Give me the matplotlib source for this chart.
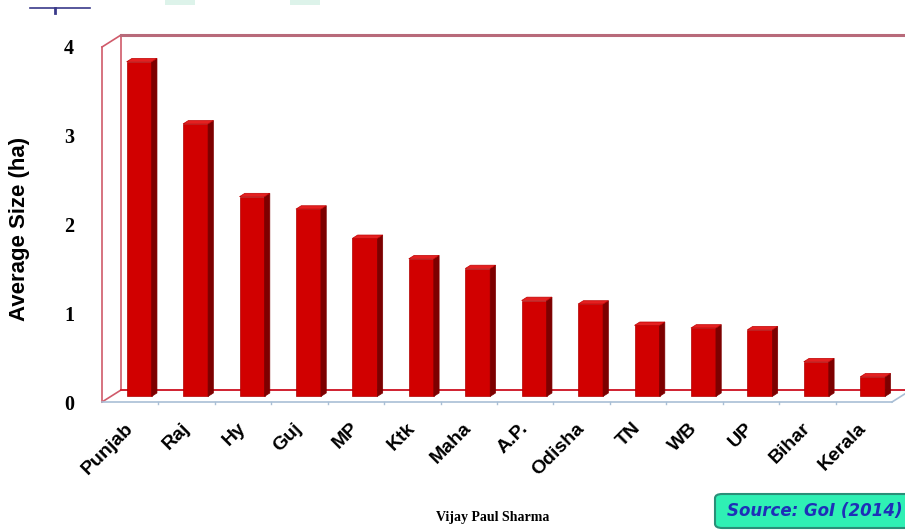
import matplotlib
matplotlib.use("Agg")
import matplotlib.pyplot as plt
from matplotlib.patches import Polygon, FancyBboxPatch, Rectangle
import numpy as np

states = ["Punjab", "Raj", "Hy", "Guj", "MP", "Ktk", "Maha", "A.P.",
          "Odisha", "TN", "WB", "UP", "Bihar", "Kerala"]
avg_size = [3.77, 3.07, 2.25, 2.11, 1.78, 1.55, 1.44, 1.08,
            1.04, 0.80, 0.77, 0.75, 0.39, 0.22]
y_ticks = [0, 1, 2, 3, 4]
y_label = "Average Size (ha)"
author = "Vijay Paul Sharma"
source = "Source: GoI (2014)"

NARROW = ["Liberation Sans Narrow", "Liberation Sans", "DejaVu Sans"]

W, H = 905, 531
fig = plt.figure(figsize=(W / 100, H / 100), dpi=100)
fig.patch.set_facecolor("white")

# front plane of the 3D frame
L, R, B, T = 102, 892, 402, 47
ax = fig.add_axes([L / W, 1 - B / H, (R - L) / W, (B - T) / H])
ax.set_xlim(-0.5, len(states) - 0.5)
ax.set_ylim(0, 4)
for s in ax.spines.values():
    s.set_visible(False)
ax.patch.set_alpha(0)

px_x = (R - L) / len(states)
px_y = (B - T) / 4.0
DX, DY = 19 / px_x, 12 / px_y  # full depth in data units

frame = "#d05a6a"
x0, x1 = -0.5, len(states) - 0.5
kw = dict(clip_on=False, lw=1.2, color=frame, zorder=1)
ax.plot([x0, x0], [0, 4], **kw)
ax.plot([x0 + DX, x0 + DX], [DY, 4 + DY], **kw)
ax.plot([x0, x0 + DX], [4, 4 + DY], **kw)
ax.plot([x0, x0 + DX], [0, DY], **kw)
ax.plot([x0 + DX, x1 + DX], [4 + DY, 4 + DY], clip_on=False, lw=2.2, color="#b86a7a", zorder=1)
ax.plot([x0 + DX, x1 + DX], [DY, DY], clip_on=False, lw=1.4, color="#d02030", zorder=1)
floor = "#a9bfd6"
ax.plot([x0, x1], [0, 0], clip_on=False, lw=1.2, color=floor, zorder=1)
ax.plot([x1, x1 + DX], [0, DY], clip_on=False, lw=1.2, color=floor, zorder=1)
for b in np.arange(x0 + 1, x1, 1.0):
    ax.plot([b, b], [0, -0.02], clip_on=False, lw=1, color=floor, zorder=1)

# bars
x = np.arange(len(states))
f1, f2 = 0.47, 0.75
bw = 25 / px_x
sx1, sy1 = f1 * DX, f1 * DY
sx2, sy2 = f2 * DX, f2 * DY
ax.bar(x + sx1, avg_size, width=bw, bottom=sy1, color="#d10000",
       edgecolor="#b00000", linewidth=0.5, zorder=3)
for xi, v in zip(x, avg_size):
    xl = xi + sx1 - bw / 2
    xr = xi + sx1 + bw / 2
    side = [(xr, sy1), (xr + sx2 - sx1, sy2), (xr + sx2 - sx1, v + sy2), (xr, v + sy1)]
    ax.add_patch(Polygon(side, closed=True, facecolor="#7d0000", edgecolor="#7d0000",
                         lw=0.5, zorder=3, clip_on=False))
    top = [(xl, v + sy1), (xr, v + sy1), (xr + sx2 - sx1, v + sy2), (xl + sx2 - sx1, v + sy2)]
    ax.add_patch(Polygon(top, closed=True, facecolor="#e42020", edgecolor="#c00000",
                         lw=0.5, zorder=3, clip_on=False))

# ticks
ax.set_yticks(y_ticks)
ax.set_yticklabels([str(t) for t in y_ticks], fontfamily="Liberation Serif",
                   fontweight="bold", fontsize=14.5)
ax.tick_params(axis="y", length=0, pad=20)
ax.set_xticks(x)
ax.set_xticklabels(states, rotation=45, ha="right", va="center",
                   rotation_mode="anchor", fontfamily=NARROW,
                   fontweight="bold", fontsize=14)
ax.tick_params(axis="x", length=0, pad=17)

fig.text(20 / W, 1 - 229 / H, y_label, rotation=90, ha="center", va="center",
         fontfamily=NARROW, fontweight="bold", fontsize=16)
fig.text(493 / W, 1 - 518 / H, author, ha="center", va="center",
         fontfamily="Liberation Serif", fontweight="bold", fontsize=10)

# source box
box = FancyBboxPatch((715 / W, 1 - 528 / H), 220 / W, 34 / H,
                     boxstyle="round,pad=0,rounding_size=0.008",
                     transform=fig.transFigure, facecolor="#2ff0b4",
                     edgecolor="#2a8f78", lw=1.5, zorder=5)
fig.patches.append(box)
fig.text(727 / W, 1 - 511 / H, source, ha="left", va="center",
         fontfamily="DejaVu Sans", fontweight="bold", style="italic",
         fontsize=12, color="#1e2fb8", zorder=6)

# decorative top-left remnants
fig.add_artist(plt.Line2D([30 / W, 90 / W], [1 - 8 / H, 1 - 8 / H],
                          transform=fig.transFigure, color="#3a3a8a", lw=1.2))
fig.add_artist(plt.Line2D([55 / W, 55 / W], [1 - 8 / H, 1 - 13 / H],
                          transform=fig.transFigure, color="#3a3a8a", lw=2))
for gx in (165, 290):
    fig.patches.append(Rectangle((gx / W, 1 - 5 / H), 30 / W, 5 / H,
                                 transform=fig.transFigure, facecolor="#ddf3ea",
                                 edgecolor="none"))

fig.savefig("out.png", dpi=100)
